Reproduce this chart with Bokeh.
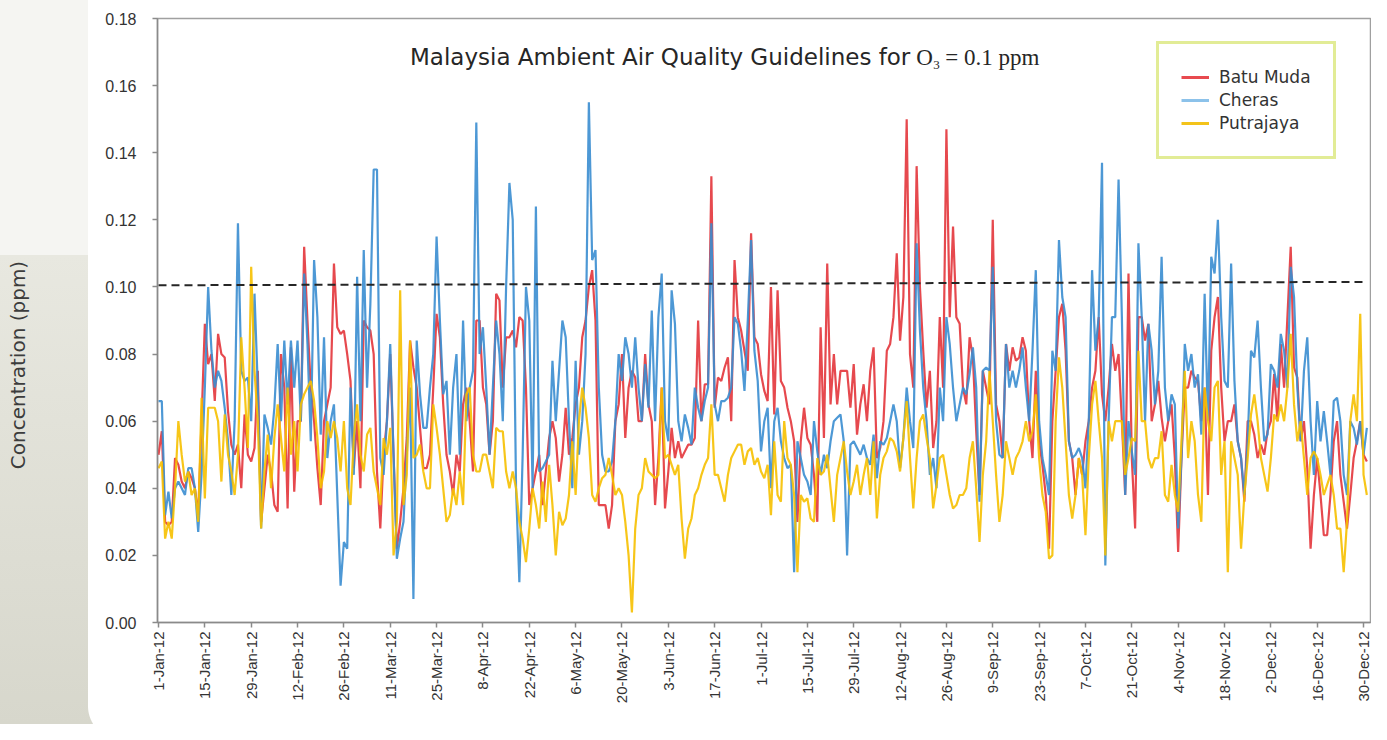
import math
import numpy as np
from bokeh.plotting import figure
from bokeh.models import (Range1d, FixedTicker, PrintfTickFormatter, Legend, LegendItem, Label)
from bokeh.embed import file_html
from bokeh.resources import INLINE

# ---------------- data ----------------
tick_days = [0, 14, 28, 42, 56, 70, 84, 98, 112, 126, 140, 154, 168, 182, 196, 210,
             224, 238, 252, 266, 280, 294, 308, 322, 336, 350, 364]
tick_labels = ["1-Jan-12", "15-Jan-12", "29-Jan-12", "12-Feb-12", "26-Feb-12", "11-Mar-12",
               "25-Mar-12", "8-Apr-12", "22-Apr-12", "6-May-12", "20-May-12", "3-Jun-12",
               "17-Jun-12", "1-Jul-12", "15-Jul-12", "29-Jul-12", "12-Aug-12", "26-Aug-12",
               "9-Sep-12", "23-Sep-12", "7-Oct-12", "21-Oct-12", "4-Nov-12", "18-Nov-12",
               "2-Dec-12", "16-Dec-12", "30-Dec-12"]
y_ticks = [0.00, 0.02, 0.04, 0.06, 0.08, 0.10, 0.12, 0.14, 0.16, 0.18]

days = list(range(366))  # day of year 2012 (0 = 1-Jan-12)

batu_muda = [
    0.050, 0.057, 0.030, 0.029, 0.030, 0.049, 0.047, 0.042, 0.040, 0.045, 0.043, 0.040, 0.032, 0.060,
    0.089, 0.077, 0.080, 0.066, 0.086, 0.080, 0.079, 0.063, 0.053, 0.050, 0.053, 0.040, 0.062, 0.050,
    0.048, 0.052, 0.075, 0.030, 0.040, 0.050, 0.045, 0.035, 0.033, 0.080, 0.070, 0.034, 0.082, 0.039,
    0.060, 0.060, 0.112, 0.090, 0.070, 0.060, 0.046, 0.035, 0.060, 0.065, 0.070, 0.107, 0.088, 0.086,
    0.087, 0.080, 0.072, 0.046, 0.060, 0.040, 0.090, 0.088, 0.087, 0.080, 0.045, 0.028, 0.050, 0.060,
    0.080, 0.050, 0.022, 0.030, 0.040, 0.055, 0.084, 0.076, 0.070, 0.058, 0.046, 0.046, 0.050, 0.070,
    0.092, 0.085, 0.065, 0.050, 0.045, 0.038, 0.050, 0.045, 0.065, 0.070, 0.060, 0.045, 0.090, 0.090,
    0.070, 0.065, 0.050, 0.060, 0.098, 0.096, 0.070, 0.085, 0.085, 0.087, 0.082, 0.091, 0.090, 0.070,
    0.035, 0.040, 0.045, 0.050, 0.035, 0.045, 0.055, 0.060, 0.055, 0.042, 0.050, 0.064, 0.050, 0.055,
    0.065, 0.070, 0.085, 0.090, 0.100, 0.105, 0.090, 0.035, 0.035, 0.035, 0.028, 0.035, 0.060, 0.065,
    0.080, 0.055, 0.070, 0.075, 0.073, 0.060, 0.060, 0.080, 0.065, 0.060, 0.035, 0.049, 0.070, 0.034,
    0.045, 0.058, 0.049, 0.054, 0.049, 0.051, 0.053, 0.053, 0.055, 0.090, 0.060, 0.071, 0.071, 0.133,
    0.064, 0.073, 0.072, 0.076, 0.079, 0.060, 0.108, 0.091, 0.087, 0.081, 0.075, 0.116, 0.085, 0.083,
    0.074, 0.069, 0.066, 0.100, 0.062, 0.099, 0.072, 0.070, 0.064, 0.060, 0.054, 0.030, 0.054, 0.064,
    0.055, 0.053, 0.044, 0.030, 0.088, 0.055, 0.107, 0.065, 0.080, 0.065, 0.075, 0.075, 0.075, 0.064,
    0.077, 0.056, 0.065, 0.071, 0.060, 0.075, 0.082, 0.049, 0.052, 0.060, 0.081, 0.083, 0.091, 0.110,
    0.084, 0.097, 0.150, 0.080, 0.070, 0.136, 0.100, 0.081, 0.064, 0.075, 0.052, 0.060, 0.091, 0.070,
    0.147, 0.091, 0.118, 0.091, 0.089, 0.070, 0.065, 0.085, 0.079, 0.057, 0.038, 0.075, 0.070, 0.065,
    0.120, 0.065, 0.060, 0.049, 0.083, 0.075, 0.082, 0.078, 0.079, 0.085, 0.081, 0.060, 0.049, 0.075,
    0.054, 0.047, 0.038, 0.022, 0.060, 0.075, 0.091, 0.095, 0.081, 0.054, 0.049, 0.038, 0.049, 0.044,
    0.054, 0.060, 0.070, 0.075, 0.091, 0.068, 0.060, 0.070, 0.083, 0.075, 0.080, 0.060, 0.038, 0.104,
    0.049, 0.028, 0.091, 0.091, 0.084, 0.089, 0.060, 0.065, 0.072, 0.061, 0.054, 0.060, 0.065, 0.049,
    0.021, 0.049, 0.070, 0.070, 0.075, 0.073, 0.072, 0.060, 0.070, 0.038, 0.081, 0.091, 0.097, 0.070,
    0.054, 0.060, 0.060, 0.065, 0.054, 0.049, 0.036, 0.060, 0.060, 0.056, 0.049, 0.053, 0.050, 0.057,
    0.060, 0.074, 0.060, 0.083, 0.070, 0.091, 0.112, 0.076, 0.073, 0.054, 0.060, 0.046, 0.022, 0.038,
    0.049, 0.038, 0.026, 0.026, 0.038, 0.054, 0.060, 0.044, 0.036, 0.028, 0.038, 0.049, 0.054, 0.060,
    0.050, 0.048,
]

cheras = [
    0.066, 0.066, 0.032, 0.039, 0.031, 0.040, 0.042, 0.040, 0.038, 0.046, 0.046, 0.040, 0.027, 0.044,
    0.070, 0.100, 0.081, 0.070, 0.075, 0.072, 0.064, 0.054, 0.038, 0.060, 0.119, 0.075, 0.072, 0.073,
    0.060, 0.098, 0.070, 0.028, 0.062, 0.058, 0.053, 0.064, 0.083, 0.060, 0.084, 0.065, 0.084, 0.070,
    0.084, 0.060, 0.104, 0.083, 0.054, 0.108, 0.091, 0.056, 0.085, 0.049, 0.060, 0.065, 0.038, 0.011,
    0.024, 0.022, 0.070, 0.044, 0.103, 0.060, 0.111, 0.070, 0.095, 0.135, 0.135, 0.049, 0.044, 0.060,
    0.083, 0.050, 0.019, 0.025, 0.030, 0.050, 0.070, 0.007, 0.084, 0.068, 0.058, 0.058, 0.070, 0.080,
    0.115, 0.090, 0.068, 0.072, 0.050, 0.070, 0.080, 0.050, 0.090, 0.060, 0.070, 0.075, 0.149, 0.080,
    0.088, 0.070, 0.050, 0.070, 0.090, 0.080, 0.060, 0.100, 0.131, 0.120, 0.040, 0.012, 0.050, 0.100,
    0.090, 0.040, 0.124, 0.045, 0.046, 0.048, 0.050, 0.078, 0.060, 0.075, 0.090, 0.085, 0.060, 0.040,
    0.078, 0.050, 0.060, 0.080, 0.155, 0.108, 0.111, 0.070, 0.050, 0.045, 0.045, 0.048, 0.060, 0.080,
    0.072, 0.085, 0.080, 0.070, 0.085, 0.070, 0.060, 0.077, 0.064, 0.093, 0.060, 0.091, 0.104, 0.060,
    0.054, 0.099, 0.089, 0.060, 0.054, 0.062, 0.058, 0.053, 0.070, 0.064, 0.060, 0.066, 0.070, 0.119,
    0.065, 0.060, 0.066, 0.066, 0.067, 0.070, 0.091, 0.089, 0.081, 0.069, 0.090, 0.114, 0.081, 0.072,
    0.051, 0.060, 0.064, 0.040, 0.060, 0.064, 0.054, 0.049, 0.046, 0.047, 0.015, 0.054, 0.049, 0.044,
    0.042, 0.038, 0.060, 0.051, 0.044, 0.050, 0.046, 0.054, 0.060, 0.061, 0.062, 0.054, 0.020, 0.053,
    0.054, 0.052, 0.050, 0.053, 0.049, 0.047, 0.056, 0.043, 0.054, 0.053, 0.055, 0.060, 0.065, 0.060,
    0.046, 0.055, 0.070, 0.060, 0.052, 0.113, 0.087, 0.070, 0.060, 0.044, 0.049, 0.040, 0.070, 0.060,
    0.091, 0.083, 0.070, 0.060, 0.065, 0.070, 0.068, 0.074, 0.082, 0.070, 0.036, 0.075, 0.076, 0.075,
    0.106, 0.060, 0.050, 0.049, 0.083, 0.070, 0.075, 0.070, 0.075, 0.082, 0.070, 0.060, 0.081, 0.105,
    0.060, 0.049, 0.044, 0.038, 0.081, 0.075, 0.114, 0.097, 0.091, 0.054, 0.049, 0.050, 0.052, 0.049,
    0.040, 0.060, 0.105, 0.081, 0.091, 0.137, 0.017, 0.060, 0.091, 0.091, 0.132, 0.091, 0.038, 0.060,
    0.051, 0.044, 0.113, 0.091, 0.060, 0.089, 0.081, 0.065, 0.075, 0.109, 0.070, 0.060, 0.068, 0.065,
    0.028, 0.049, 0.083, 0.075, 0.080, 0.070, 0.074, 0.056, 0.098, 0.060, 0.109, 0.104, 0.120, 0.091,
    0.072, 0.070, 0.107, 0.072, 0.054, 0.049, 0.038, 0.054, 0.081, 0.079, 0.090, 0.070, 0.054, 0.056,
    0.077, 0.075, 0.070, 0.086, 0.081, 0.070, 0.106, 0.097, 0.070, 0.054, 0.075, 0.085, 0.060, 0.044,
    0.066, 0.054, 0.063, 0.054, 0.044, 0.066, 0.067, 0.060, 0.044, 0.038, 0.060, 0.058, 0.053, 0.060,
    0.050, 0.058,
]

putrajaya = [
    0.046, 0.048, 0.025, 0.030, 0.025, 0.040, 0.060, 0.050, 0.042, 0.045, 0.038, 0.040, 0.030, 0.067,
    0.037, 0.064, 0.064, 0.064, 0.060, 0.042, 0.062, 0.050, 0.045, 0.038, 0.050, 0.085, 0.070, 0.052,
    0.106, 0.075, 0.060, 0.028, 0.045, 0.056, 0.040, 0.055, 0.065, 0.055, 0.045, 0.070, 0.050, 0.060,
    0.045, 0.065, 0.068, 0.070, 0.072, 0.066, 0.055, 0.040, 0.045, 0.060, 0.055, 0.060, 0.055, 0.045,
    0.060, 0.040, 0.035, 0.055, 0.065, 0.050, 0.045, 0.056, 0.058, 0.045, 0.040, 0.035, 0.055, 0.050,
    0.058, 0.020, 0.030, 0.099, 0.035, 0.044, 0.084, 0.049, 0.050, 0.053, 0.045, 0.040, 0.040, 0.065,
    0.058, 0.050, 0.040, 0.030, 0.032, 0.040, 0.035, 0.045, 0.035, 0.068, 0.070, 0.050, 0.045, 0.045,
    0.050, 0.050, 0.045, 0.040, 0.058, 0.057, 0.057, 0.045, 0.040, 0.045, 0.040, 0.030, 0.025, 0.018,
    0.028, 0.040, 0.035, 0.028, 0.042, 0.030, 0.047, 0.035, 0.020, 0.033, 0.029, 0.031, 0.038, 0.054,
    0.038, 0.060, 0.070, 0.064, 0.055, 0.038, 0.036, 0.040, 0.043, 0.044, 0.049, 0.044, 0.038, 0.040,
    0.038, 0.030, 0.020, 0.003, 0.028, 0.038, 0.040, 0.049, 0.045, 0.044, 0.043, 0.044, 0.070, 0.049,
    0.050, 0.047, 0.044, 0.047, 0.031, 0.019, 0.028, 0.031, 0.038, 0.040, 0.044, 0.047, 0.049, 0.065,
    0.044, 0.044, 0.040, 0.036, 0.044, 0.049, 0.051, 0.053, 0.053, 0.047, 0.051, 0.052, 0.047, 0.049,
    0.045, 0.043, 0.047, 0.032, 0.054, 0.038, 0.036, 0.060, 0.049, 0.047, 0.038, 0.015, 0.038, 0.036,
    0.037, 0.031, 0.030, 0.049, 0.044, 0.045, 0.050, 0.040, 0.030, 0.044, 0.049, 0.054, 0.045, 0.038,
    0.042, 0.047, 0.038, 0.044, 0.049, 0.038, 0.054, 0.031, 0.044, 0.049, 0.051, 0.055, 0.054, 0.051,
    0.045, 0.055, 0.066, 0.049, 0.034, 0.049, 0.060, 0.062, 0.055, 0.049, 0.034, 0.041, 0.049, 0.050,
    0.044, 0.038, 0.034, 0.035, 0.038, 0.038, 0.040, 0.049, 0.054, 0.040, 0.024, 0.044, 0.054, 0.075,
    0.060, 0.044, 0.030, 0.038, 0.054, 0.049, 0.044, 0.049, 0.051, 0.054, 0.060, 0.054, 0.057, 0.068,
    0.049, 0.038, 0.033, 0.019, 0.020, 0.060, 0.079, 0.070, 0.054, 0.038, 0.031, 0.038, 0.049, 0.044,
    0.026, 0.049, 0.065, 0.072, 0.060, 0.049, 0.020, 0.060, 0.054, 0.060, 0.060, 0.060, 0.044, 0.049,
    0.055, 0.054, 0.081, 0.060, 0.060, 0.049, 0.046, 0.049, 0.049, 0.057, 0.038, 0.036, 0.047, 0.038,
    0.033, 0.054, 0.075, 0.049, 0.060, 0.054, 0.038, 0.030, 0.070, 0.060, 0.054, 0.070, 0.072, 0.044,
    0.054, 0.015, 0.054, 0.049, 0.044, 0.022, 0.038, 0.049, 0.062, 0.068, 0.060, 0.049, 0.044, 0.039,
    0.049, 0.062, 0.060, 0.065, 0.060, 0.070, 0.086, 0.065, 0.054, 0.060, 0.049, 0.038, 0.049, 0.051,
    0.049, 0.044, 0.038, 0.041, 0.044, 0.038, 0.028, 0.028, 0.015, 0.030, 0.060, 0.068, 0.060, 0.092,
    0.044, 0.038,
]

guide_x = [0, 365]
guide_y = [0.1005, 0.1015]

assert len(batu_muda) == len(cheras) == len(putrajaya) == len(days) == 366

# ---------------- figure ----------------
W, H = 1371, 724
page_bg = ", ".join([
    # rounded bottom-left corner of the white panel
    "radial-gradient(circle 34px at 34px 0px, #ffffff 33.5px, rgba(255,255,255,0) 34.5px) 88px 706px / 34px 34px no-repeat",
    # white panel
    "linear-gradient(#ffffff, #ffffff) 88px 0px / 100% 706px no-repeat",
    "linear-gradient(#ffffff, #ffffff) 122px 706px / 100% 100% no-repeat",
    # grey side strip
    "linear-gradient(to bottom, #f5f5f2 0px, #f5f5f2 255px, #e8e8e0 255px, #d7d7cc 724px) 0px 0px / 100% 100% no-repeat",
])

p = figure(width=W, height=H, output_backend="svg", toolbar_location=None,
           x_range=Range1d(-0.3, 366.1), y_range=Range1d(0, 0.18),
           min_border_left=157, min_border_right=1, min_border_top=18, min_border_bottom=102)
p.styles = {"background": page_bg}
p.background_fill_color = "white"
p.border_fill_color = None
p.outline_line_color = "#a0a0a0"
p.outline_line_width = 1.5
p.xgrid.visible = False
p.ygrid.visible = False

# series
p.line(days, batu_muda, line_color="#e3353b", line_width=2.2, line_alpha=0.9)
p.line(days, cheras, line_color="#3a8dd0", line_width=2.2, line_alpha=0.9)
p.line(days, putrajaya, line_color="#f6c000", line_width=2.2, line_alpha=0.9)

# guideline
p.line(guide_x, guide_y, line_color="#262626", line_width=2, line_dash="8 5")

# axes
p.xaxis.ticker = FixedTicker(ticks=tick_days)
p.xaxis.major_label_overrides = {d: l for d, l in zip(tick_days, tick_labels)}
p.xaxis.major_label_orientation = math.pi / 2
p.yaxis.ticker = FixedTicker(ticks=y_ticks)
p.yaxis.formatter = PrintfTickFormatter(format="%.2f")
for ax in (p.xaxis[0], p.yaxis[0]):
    ax.axis_line_color = "#8a8a8a"
    ax.axis_line_width = 1.5
    ax.major_tick_line_color = "#8a8a8a"
    ax.major_tick_line_width = 1.5
    ax.major_tick_in = 0
    ax.major_tick_out = 5
    ax.minor_tick_line_color = None
    ax.major_label_text_font = "Liberation Sans"
    ax.major_label_text_color = "#333333"
p.yaxis.major_label_text_font_size = "16px"
p.yaxis.major_label_standoff = 16
p.xaxis.major_label_text_font_size = "15px"
p.xaxis.major_label_standoff = 4

# y axis title (trailing no-break spaces move the visible words below the frame centre, as in the original)
p.yaxis.axis_label = "Concentration (ppm)" + "\u00a0" * 14
p.yaxis.axis_label_text_font = "DejaVu Sans"
p.yaxis.axis_label_text_font_size = "20px"
p.yaxis.axis_label_text_font_style = "normal"
p.yaxis.axis_label_text_color = "#3c3c3c"
p.yaxis.axis_label_standoff = 72

# guideline caption
cap_x = 227.1
cap_y = 0.1684
p.add_layout(Label(x=cap_x, y=cap_y, text="Malaysia Ambient Air Quality Guidelines for",
                   text_align="right", text_baseline="middle",
                   text_font="DejaVu Sans", text_font_size="23px", text_color="#262626"))
p.add_layout(Label(x=cap_x, y=cap_y, x_offset=6, text="O",
                   text_align="left", text_baseline="middle",
                   text_font="Liberation Serif", text_font_size="23px", text_color="#262626"))
p.add_layout(Label(x=cap_x, y=cap_y, x_offset=23, y_offset=-8, text="3",
                   text_align="left", text_baseline="middle",
                   text_font="Liberation Serif", text_font_size="13px", text_color="#262626"))
p.add_layout(Label(x=cap_x, y=cap_y, x_offset=35, text="= 0.1 ppm",
                   text_align="left", text_baseline="middle",
                   text_font="Liberation Serif", text_font_size="23px", text_color="#262626"))

# legend (swatch renderers in the legend's own colours; one NaN point, so nothing is plotted)
nan_x = np.array([0.0])
nan_y = np.array([np.nan])
lg_bm = p.line(nan_x, nan_y, line_color="#e84a4f", line_width=3)
lg_ch = p.line(nan_x, nan_y, line_color="#8cc2ea", line_width=3)
lg_pj = p.line(nan_x, nan_y, line_color="#f3c31a", line_width=3)
legend = Legend(items=[LegendItem(label="Batu Muda", renderers=[lg_bm]),
                       LegendItem(label="Cheras", renderers=[lg_ch]),
                       LegendItem(label="Putrajaya", renderers=[lg_pj])],
                location=(999, 463), margin=0, padding=22, spacing=1,
                label_height=22, glyph_height=22, glyph_width=28, label_standoff=10,
                border_line_color="#c6d92e", border_line_width=3,
                background_fill_color="white", background_fill_alpha=1.0,
                label_text_font="DejaVu Sans", label_text_font_size="17px",
                label_text_color="#333333")
p.add_layout(legend)

open("out.html", "w").write(file_html(p, INLINE))
